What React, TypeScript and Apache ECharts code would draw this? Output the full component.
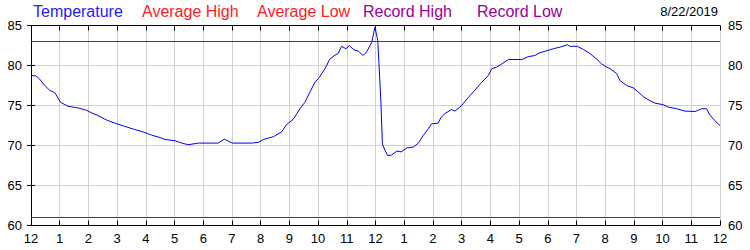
import React, { useEffect, useRef } from "react";
import * as echarts from "echarts";

// Hours since midnight (0..24) and temperature readings (°F)
const tempHours = [
  0, 0.17, 0.3, 0.48, 0.65, 0.83, 1.03, 1.29, 1.64, 1.93, 2.16, 2.33, 2.62, 2.92, 3.26, 3.61, 3.9,
  4.2, 4.49, 4.67, 5.02, 5.25, 5.48, 5.83, 6.52, 6.73, 7.01, 7.69, 7.92, 8.1, 8.44, 8.73, 8.9,
  9.14, 9.37, 9.54, 9.72, 9.89, 10.04, 10.24, 10.41, 10.59, 10.7, 10.82, 10.97, 11.09, 11.23,
  11.4, 11.57, 11.69, 11.87, 11.98, 12.08, 12.12, 12.19, 12.24, 12.33, 12.42, 12.56, 12.74,
  12.89, 13.09, 13.32, 13.49, 13.66, 13.84, 13.95, 14.18, 14.28, 14.42, 14.65, 14.77, 15.0,
  15.23, 15.46, 15.7, 15.93, 16.05, 16.22, 16.4, 16.63, 17.09, 17.32, 17.55, 17.73, 18.02, 18.2,
  18.43, 18.68, 18.77, 19.03, 19.24, 19.47, 19.7, 19.88, 20.05, 20.17, 20.4, 20.52, 20.75,
  20.98, 21.15, 21.33, 21.56, 21.73, 22.02, 22.2, 22.49, 22.78, 23.13, 23.36, 23.53, 23.65,
  23.82, 24.0,
];
const tempValues = [
  78.75, 78.7, 78.3, 77.5, 76.9, 76.6, 75.4, 74.9, 74.7, 74.4, 74.0, 73.75, 73.2, 72.8, 72.4, 72.0, 71.7,
  71.3, 71.0, 70.75, 70.6, 70.3, 70.1, 70.3, 70.3, 70.8, 70.3, 70.3, 70.4, 70.75, 71.1, 71.7, 72.6,
  73.3, 74.6, 75.4, 76.7, 77.9, 78.5, 79.6, 80.8, 81.3, 81.5, 82.4, 82.1, 82.5, 82.0,
  81.8, 81.25, 81.7, 82.9, 84.8, 83.1, 80.25, 75.25, 70.2, 69.4, 68.75, 68.8, 69.3,
  69.2, 69.7, 69.8, 70.3, 71.25, 72.1, 72.7, 72.8, 73.5, 74.0, 74.5, 74.3, 75.0,
  76.0, 76.9, 77.9, 78.75, 79.6, 79.8, 80.2, 80.75, 80.75, 81.1, 81.25, 81.6, 81.9, 82.1,
  82.3, 82.6, 82.4, 82.4, 82.0, 81.5, 80.8, 80.2, 79.8, 79.6, 79.0, 78.1, 77.5,
  77.2, 76.7, 76.1, 75.6, 75.3, 75.1, 74.8, 74.6, 74.3, 74.25, 74.6, 74.6, 73.8,
  73.1, 72.5,
];

const normalHours = [0, 24];
const avgHighValues = [83, 83];
const avgLowValues = [61, 61];

const legendNames = ["Temperature", "Average High", "Average Low", "Record High", "Record Low"];
const dateLabel = "8/22/2019";

const X_MIN = 0;
const X_MAX = 24;
const Y_MIN = 60;
const Y_MAX = 85;

const FONT = "'Liberation Sans', Arial, sans-serif";

export default function App() {
  const ref = useRef<HTMLDivElement>(null);

  useEffect(() => {
    if (!ref.current) return;
    const chart = echarts.init(ref.current, undefined, { renderer: "svg" });

    const zip = (xs: number[], ys: number[]) => xs.map((x, i) => [x, ys[i]]);
    const hourLabel = (v: number) => {
      const h = Math.round(v) % 12;
      return String(h === 0 ? 12 : h);
    };

    const legendColors = ["#1c1cff", "#ff1c1c", "#ff1c1c", "#990099", "#990099"];
    const legendX = [33, 142, 257, 363, 477];

    const axisLine = { show: true, lineStyle: { color: "#000", width: 1 } };
    const labelStyle = { color: "#000", fontSize: 13, fontFamily: FONT };

    chart.setOption({
      animation: false,
      backgroundColor: "#fff",
      grid: { left: 31, right: 30, top: 25.5, bottom: 24.5, containLabel: false, outerBoundsMode: "none" },
      xAxis: [
        {
          type: "value",
          position: "bottom",
          min: X_MIN,
          max: X_MAX,
          interval: 1,
          axisLine,
          axisTick: { show: true, inside: true, length: 5, lineStyle: { color: "#000" } },
          axisLabel: { ...labelStyle, margin: 6, formatter: hourLabel, showMinLabel: true, showMaxLabel: true },
          splitLine: { show: true, lineStyle: { color: "#d0d0d0", width: 1 } },
        },
        {
          type: "value",
          position: "top",
          min: X_MIN,
          max: X_MAX,
          interval: 1,
          axisLine,
          axisTick: { show: true, inside: true, length: 5, lineStyle: { color: "#000" } },
          axisLabel: { show: false },
          splitLine: { show: false },
        },
      ],
      yAxis: [
        {
          type: "value",
          position: "left",
          min: Y_MIN,
          max: Y_MAX,
          interval: 5,
          axisLine,
          axisTick: { show: true, inside: true, length: 4, lineStyle: { color: "#000" } },
          axisLabel: { ...labelStyle, margin: 9 },
          splitLine: { show: true, lineStyle: { color: "#d0d0d0", width: 1 } },
        },
        {
          type: "value",
          position: "right",
          min: Y_MIN,
          max: Y_MAX,
          interval: 5,
          axisLine,
          axisTick: { show: true, inside: true, length: 4, lineStyle: { color: "#000" } },
          axisLabel: { ...labelStyle, margin: 8 },
          splitLine: { show: false },
        },
      ],
      series: [
        {
          name: "Average High",
          type: "line",
          data: zip(normalHours, avgHighValues),
          symbol: "none",
          lineStyle: { color: "#e00000", width: 1 },
          z: 2,
        },
        {
          name: "Average Low",
          type: "line",
          data: zip(normalHours, avgLowValues),
          symbol: "none",
          lineStyle: { color: "#e00000", width: 1 },
          z: 2,
        },
        {
          name: "Temperature",
          type: "line",
          data: zip(tempHours, tempValues),
          symbol: "none",
          lineStyle: { color: "#0000ff", width: 1 },
          z: 3,
        },
      ],
      graphic: [
        ...legendNames.map((name, i) => ({
          type: "text",
          left: legendX[i],
          top: 3,
          style: { text: name, fill: legendColors[i], fontSize: 16, fontFamily: FONT },
        })),
        {
          type: "text",
          right: 32,
          top: 5,
          style: { text: dateLabel, fill: "#000", fontSize: 13, fontFamily: FONT },
        },
      ],
    });

    return () => chart.dispose();
  }, []);

  return (
    <div
      ref={ref}
      style={{ position: "fixed", left: 0, top: 0, width: 750, height: 250, background: "#fff" }}
    />
  );
}
